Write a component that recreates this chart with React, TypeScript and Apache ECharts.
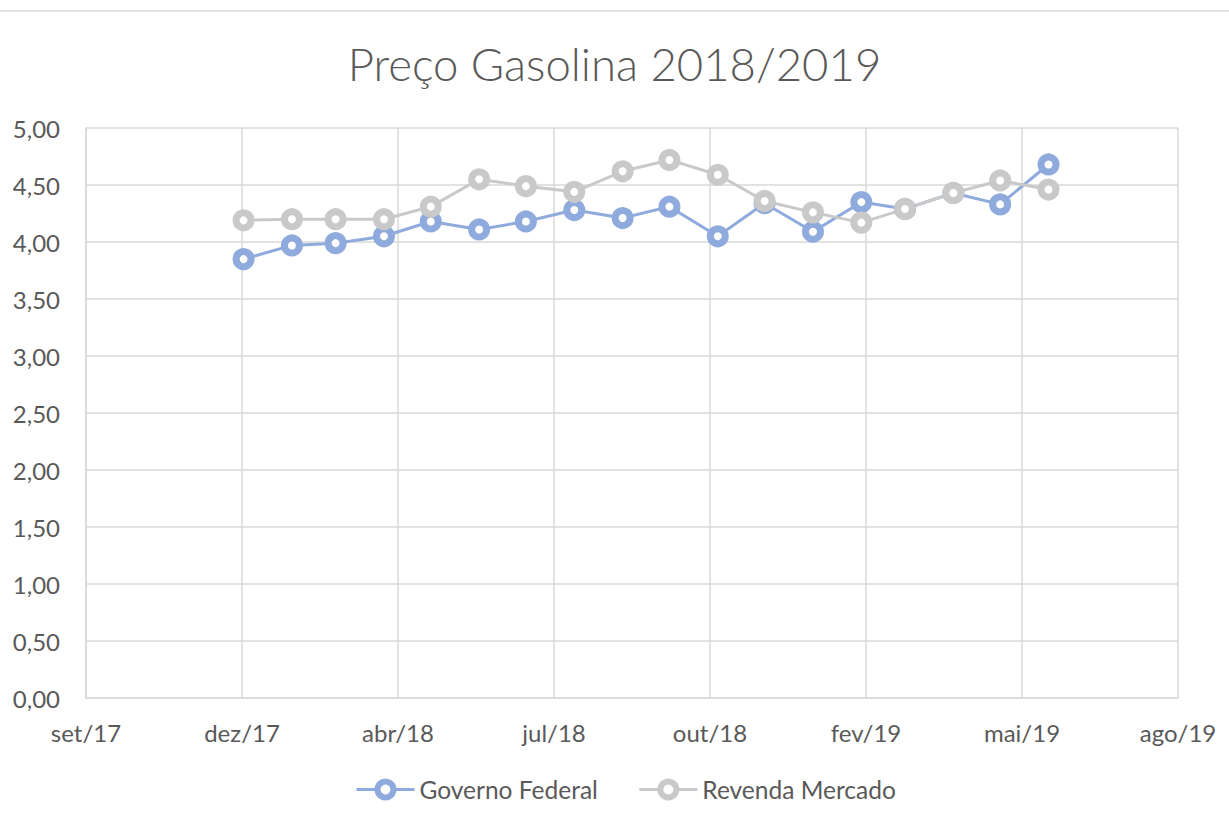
import React, { useEffect, useRef } from "react";
import * as echarts from "echarts";

const dates = [
  "2018-01-01", "2018-02-01", "2018-03-01", "2018-04-01", "2018-05-01", "2018-06-01",
  "2018-07-01", "2018-08-01", "2018-09-01", "2018-10-01", "2018-11-01", "2018-12-01",
  "2019-01-01", "2019-02-01", "2019-03-01", "2019-04-01", "2019-05-01", "2019-06-01",
];
const governoFederal = [3.85, 3.97, 3.99, 4.05, 4.18, 4.11, 4.18, 4.28, 4.21, 4.31, 4.05, 4.34, 4.09, 4.35, 4.29, 4.43, 4.33, 4.68];
const revendaMercado = [4.19, 4.20, 4.20, 4.20, 4.31, 4.55, 4.49, 4.44, 4.62, 4.72, 4.59, 4.36, 4.26, 4.17, 4.29, 4.43, 4.54, 4.46];
const monthNames = ["jan", "fev", "mar", "abr", "mai", "jun", "jul", "ago", "set", "out", "nov", "dez"];
const seriesNames = ["Governo Federal", "Revenda Mercado"];
const title = "Preço Gasolina 2018/2019";
// Excel date serial axis: 43000 (20/09/2017) .. 43700, major unit 100 days
const xMin = 43000;
const xMax = 43700;
const xInterval = 100;

const toSerial = (s: string) => {
  const [y, m, d] = s.split("-").map(Number);
  return Date.UTC(y, m - 1, d) / 86400000 + 25569;
};
const serialLabel = (v: number) => {
  const d = new Date((v - 25569) * 86400000);
  return monthNames[d.getUTCMonth()] + "/" + String(d.getUTCFullYear()).slice(2);
};

const FONT = "Lato";
const TEXT = "#595959";
const GRID = "#d9d9d9";
const BLUE = "#8FAADC";
const GREY = "#C9C9C9";

export default function App() {
  const ref = useRef<HTMLDivElement>(null);
  useEffect(() => {
    document.body.style.margin = "0";
    if (!ref.current) return;
    const chart = echarts.init(ref.current, undefined, { renderer: "svg" });
    const mk = (name: string, vals: number[], color: string) => ({
      name,
      type: "line",
      data: dates.map((d, i) => [toSerial(d), vals[i]]),
      symbol: "circle",
      symbolSize: 15,
      lineStyle: { color, width: 3 },
      itemStyle: { color: "#ffffff", borderColor: color, borderWidth: 7 },
      emphasis: { disabled: true },
    });
    chart.setOption({
      animation: false,
      backgroundColor: "#ffffff",
      textStyle: { fontFamily: FONT },
      title: {
        text: title,
        left: "center",
        top: 35,
        textStyle: { fontFamily: FONT, fontSize: 45.5, fontWeight: 300, color: TEXT },
      },
      graphic: [
        { type: "line", shape: { x1: 0, y1: 11, x2: 1229, y2: 11 }, style: { stroke: GRID, lineWidth: 1.5 } },
      ],
      legend: {
        bottom: 30,
        left: 350,
        itemWidth: 58,
        itemHeight: 20,
        itemGap: 40,
        itemStyle: { borderWidth: 6 },
        lineStyle: { width: 3 },
        textStyle: { fontFamily: FONT, fontSize: 24.5, color: TEXT },
        data: seriesNames,
      },
      grid: { left: 86, right: 51, top: 128, bottom: 139, containLabel: false },
      xAxis: {
        type: "value",
        min: xMin,
        max: xMax,
        interval: xInterval,
        axisLine: { show: true, lineStyle: { color: GRID, width: 1.5 } },
        axisTick: { show: false },
        splitLine: { show: true, lineStyle: { color: GRID, width: 1.5 } },
        axisLabel: { formatter: serialLabel, fontFamily: FONT, fontSize: 24, color: TEXT, margin: 22 },
      },
      yAxis: {
        type: "value",
        min: 0,
        max: 5,
        interval: 0.5,
        axisLine: { show: true, lineStyle: { color: GRID, width: 1.5 } },
        axisTick: { show: false },
        splitLine: { show: true, lineStyle: { color: GRID, width: 1.5 } },
        axisLabel: {
          formatter: (v: number) => v.toFixed(2).replace(".", ","),
          fontFamily: FONT,
          fontSize: 24,
          color: TEXT,
          margin: 26,
        },
      },
      series: [mk(seriesNames[0], governoFederal, BLUE), mk(seriesNames[1], revendaMercado, GREY)],
    });
    return () => chart.dispose();
  }, []);
  return <div ref={ref} style={{ width: 1229, height: 837 }} />;
}
